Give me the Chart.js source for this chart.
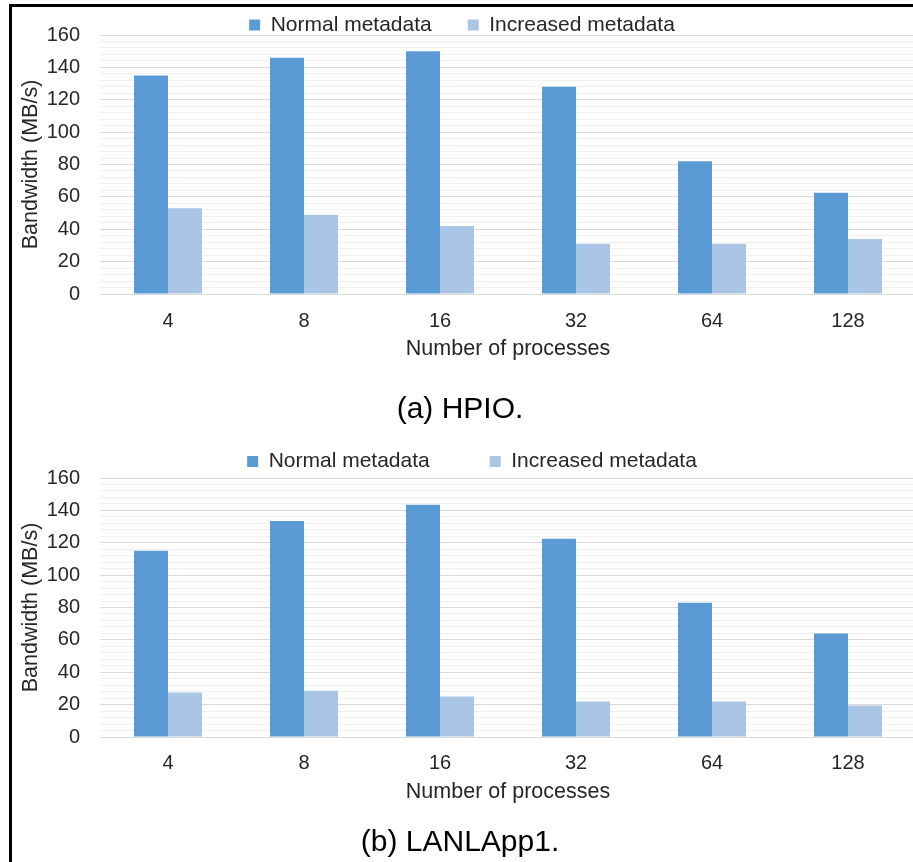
<!DOCTYPE html>
<html>
<head>
<meta charset="utf-8">
<script src="https://cdn.jsdelivr.net/npm/chart.js@4.4.1/dist/chart.umd.min.js"></script>
<style>
  html, body { margin: 0; padding: 0; background: #fff; }
  body { width: 913px; height: 862px; overflow: hidden; position: relative; }
  canvas { position: absolute; left: 0; }
  #c1 { top: -32px; }
  #c2 { top: 387px; }
  #frame { position: absolute; left: 9px; top: 4px; width: 940px; height: 900px;
           border-top: 3px solid #000; border-left: 3px solid #000; box-sizing: border-box;
           z-index: 5; pointer-events: none; }
</style>
</head>
<body>
<canvas id="c1" width="920" height="463"></canvas>
<canvas id="c2" width="920" height="475"></canvas>
<div id="frame"></div>
<script>
// ---- data ----
const categories = ['4', '8', '16', '32', '64', '128'];
const seriesNames = ['Normal metadata', 'Increased metadata'];
const hpioNormal = [135, 146, 150, 128, 82, 62.5];
const hpioIncreased = [53, 49, 42, 31, 31, 34];
const lanlNormal = [115, 133.5, 143.5, 122.5, 83, 64];
const lanlIncreased = [27.5, 28.5, 25, 22, 22, 19.5];
const yTickLabels = [0, 20, 40, 60, 80, 100, 120, 140, 160];
const yMinorStep = 4;
const xAxisTitle = 'Number of processes';
const yAxisTitle = 'Bandwidth (MB/s)';
const captions = ['(a) HPIO.', '(b) LANLApp1.'];

// ---- styles ----
const FONT = '"Liberation Sans", Arial, Helvetica, sans-serif';
const TEXT = '#262626';
const DARK = '#5B9BD5';
const LIGHT = '#ABC5E6';

const legendShift = {
  id: 'legendShift',
  afterLayout(chart, args, opts) {
    const l = chart.legend;
    if (!l) return;
    const dx = opts.dx || 0, dy = opts.dy || 0;
    l.left += dx; l.right += dx; l.top += dy; l.bottom += dy;
  }
};

function makeChart(id, normal, increased, caption, g) {
  return new Chart(document.getElementById(id), {
    type: 'bar',
    data: {
      labels: categories,
      datasets: [
        { label: seriesNames[0], data: normal, backgroundColor: DARK, borderWidth: 0,
          categoryPercentage: 0.5, barPercentage: 1.0 },
        { label: seriesNames[1], data: increased, backgroundColor: LIGHT, borderWidth: 0,
          categoryPercentage: 0.5, barPercentage: 1.0 }
      ]
    },
    options: {
      responsive: false,
      animation: false,
      devicePixelRatio: 1,
      layout: { padding: { left: 4, right: 4, top: 0, bottom: g.padBottom } },
      scales: {
        x: {
          afterFit(scale) { scale.height = g.xHeight; },
          grid: { display: false, drawTicks: false },
          border: { display: true, color: '#d9d9d9', width: 1 },
          ticks: { color: TEXT, font: { family: FONT, size: 20 }, padding: g.xTickPad, maxRotation: 0 },
          title: { display: true, text: xAxisTitle, color: TEXT,
                   font: { family: FONT, size: 21.5 }, padding: { top: 0, bottom: 0 } }
        },
        y: {
          min: yTickLabels[0],
          max: yTickLabels[yTickLabels.length - 1],
          afterBuildTicks(scale) {
            const t = [];
            for (let v = scale.min; v <= scale.max + 1e-9; v += yMinorStep) t.push({ value: v });
            scale.ticks = t;
          },
          afterFit(scale) { scale.width = 96; },
          grid: {
            drawTicks: false,
            color: ctx => (ctx.tick && yTickLabels.includes(ctx.tick.value)) ? '#d9d9d9' : '#f0f0f0',
            lineWidth: 1
          },
          border: { display: false },
          ticks: {
            autoSkip: false,
            padding: 20,
            color: TEXT,
            font: { family: FONT, size: 20 },
            callback: v => yTickLabels.includes(v) ? String(v) : ''
          },
          title: { display: true, text: yAxisTitle, color: TEXT,
                   font: { family: FONT, size: 21.5 }, padding: { top: 14, bottom: 0 } }
        }
      },
      plugins: {
        legend: {
          position: 'top',
          labels: { boxWidth: 11, boxHeight: 11, padding: g.legendPad, color: TEXT,
                    font: { family: FONT, size: 21 } }
        },
        legendShift: { dx: g.dx, dy: g.dy },
        title: { display: true, position: 'bottom', text: caption, color: '#000',
                 font: { family: FONT, size: 30, weight: 'normal', lineHeight: 1.2 },
                 padding: { top: g.capPad, bottom: 0 } },
        tooltip: { enabled: false }
      }
    },
    plugins: [legendShift]
  });
}

makeChart('c1', hpioNormal, hpioIncreased, captions[0],
  { legendPad: 36, dx: 2, dy: 10.5, xTickPad: 15, xHeight: 67.9, capPad: 30.1, padBottom: 3.0 });
makeChart('c2', lanlNormal, lanlIncreased, captions[1],
  { legendPad: 60, dx: 12, dy: 4, xTickPad: 14, xHeight: 67.6, capPad: 20.4, padBottom: 1.0 });
</script>
</body>
</html>
